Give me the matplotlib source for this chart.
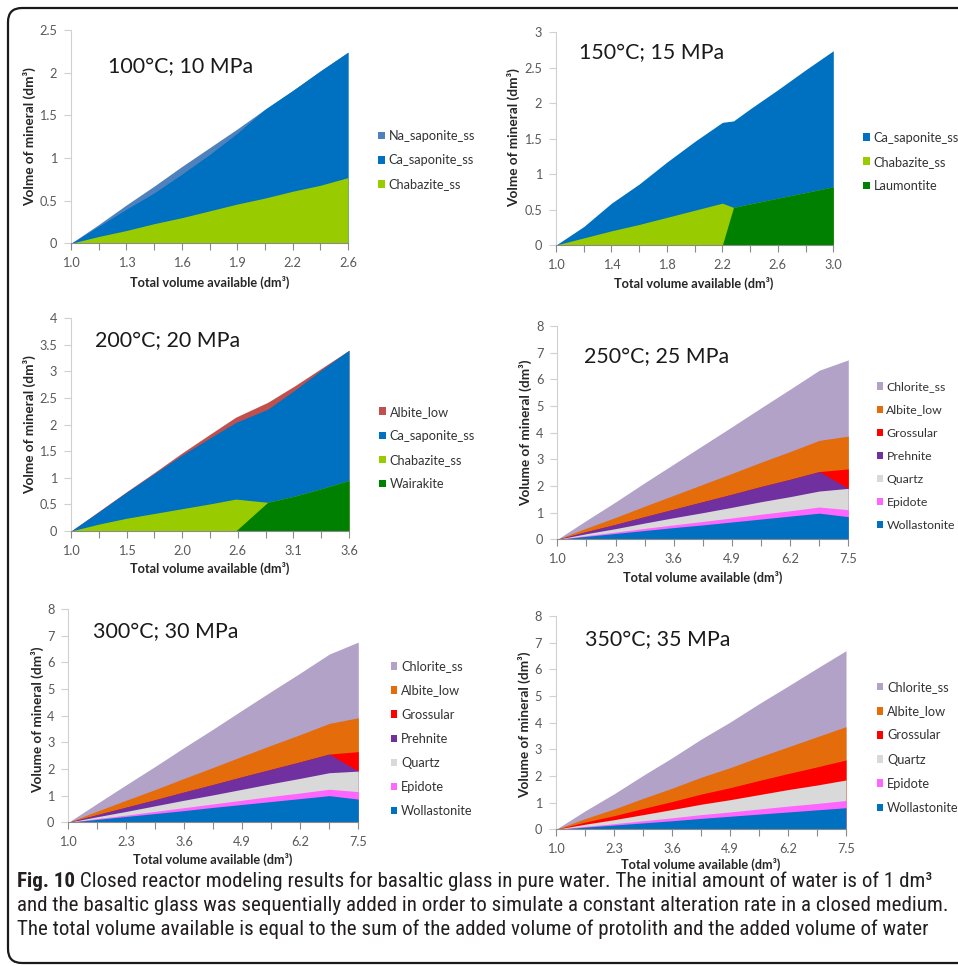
import matplotlib
matplotlib.use("Agg")
import matplotlib.pyplot as plt
import numpy as np
from matplotlib import font_manager
from matplotlib.patches import FancyBboxPatch

W, H, DPI = 958, 966, 100

_installed = {f.name for f in font_manager.fontManager.ttflist}
SANS = "Lato" if "Lato" in _installed else "DejaVu Sans"
NARROW = next((n for n in ("Liberation Sans Narrow", "Roboto Condensed", "Open Sans Condensed")
               if n in _installed), SANS)
plt.rcParams["font.family"] = [SANS, "DejaVu Sans"]

# mineral colours
BLUE = "#0070C0"
NA_BLUE = "#4F81BD"
LIME = "#99CC00"
GREEN = "#008000"
BRICK = "#C0504D"
LILAC = "#B3A2C7"
ORANGE = "#E46C0A"
RED = "#FF0000"
PURPLE = "#7030A0"
GREY = "#D9D9D9"
PINK = "#FF66FF"

# ---------------- 100 °C; 10 MPa ----------------
x_100 = [1.0, 1.16, 1.32, 1.48, 1.64, 1.80, 1.96, 2.12, 2.28, 2.44, 2.60]
ticks_100 = ["1.0", "1.3", "1.6", "1.9", "2.2", "2.6"]
chabazite_100 = [0, 0.08, 0.15, 0.23, 0.30, 0.38, 0.46, 0.53, 0.61, 0.68, 0.77]
ca_saponite_100 = [0, 0.12, 0.25, 0.36, 0.51, 0.66, 0.83, 1.04, 1.18, 1.34, 1.47]
na_saponite_100 = [0, 0.02, 0.05, 0.08, 0.09, 0.08, 0.05, 0, 0, 0, 0]

# ---------------- 150 °C; 15 MPa ----------------
x_150 = [1.0, 1.2, 1.4, 1.6, 1.8, 2.0, 2.2, 2.28, 2.4, 2.6, 2.8, 3.0]
ticks_150 = ["1.0", "1.4", "1.8", "2.2", "2.6", "3.0"]
laumontite_150 = [0, 0, 0, 0, 0, 0, 0, 0.53, 0.58, 0.66, 0.74, 0.82]
chabazite_150 = [0, 0.10, 0.20, 0.29, 0.39, 0.49, 0.59, 0, 0, 0, 0, 0]
ca_saponite_150 = [0, 0.16, 0.39, 0.57, 0.78, 0.97, 1.14, 1.22, 1.34, 1.53, 1.73, 1.92]

# ---------------- 200 °C; 20 MPa ----------------
x_200 = [1.0, 1.26, 1.52, 1.78, 2.04, 2.30, 2.54, 2.84, 3.10, 3.35, 3.60]
ticks_200 = ["1.0", "1.5", "2.0", "2.6", "3.1", "3.6"]
wairakite_200 = [0, 0, 0, 0, 0, 0, 0, 0.54, 0.66, 0.80, 0.95]
chabazite_200 = [0, 0.13, 0.24, 0.33, 0.42, 0.51, 0.60, 0, 0, 0, 0]
ca_saponite_200 = [0, 0.23, 0.49, 0.75, 1.01, 1.24, 1.44, 1.75, 2.00, 2.24, 2.45]
albite_200 = [0, 0.01, 0.01, 0.02, 0.04, 0.07, 0.10, 0.13, 0.08, 0.03, 0]

# ---------------- 250-350 °C share one volume axis ----------------
x_hi = [1.0, 1.65, 2.3, 2.95, 3.6, 4.25, 4.9, 5.55, 6.2, 6.85, 7.5]
ticks_hi = ["1.0", "2.3", "3.6", "4.9", "6.2", "7.5"]

wollastonite_250 = [0, 0.11, 0.22, 0.33, 0.44, 0.54, 0.65, 0.76, 0.87, 0.98, 0.85]
epidote_250 = [0, 0.03, 0.05, 0.08, 0.10, 0.13, 0.15, 0.18, 0.20, 0.23, 0.26]
quartz_250 = [0, 0.07, 0.13, 0.20, 0.27, 0.33, 0.40, 0.47, 0.53, 0.60, 0.80]
prehnite_250 = [0, 0.08, 0.16, 0.24, 0.32, 0.41, 0.49, 0.57, 0.65, 0.73, 0]
grossular_250 = [0, 0, 0, 0, 0, 0, 0, 0, 0, 0, 0.73]
albite_250 = [0, 0.13, 0.26, 0.39, 0.52, 0.65, 0.78, 0.91, 1.04, 1.17, 1.23]
chlorite_250 = [0, 0.29, 0.58, 0.88, 1.17, 1.46, 1.75, 2.04, 2.34, 2.63, 2.86]

wollastonite_300 = [0, 0.11, 0.22, 0.33, 0.44, 0.56, 0.67, 0.78, 0.89, 1.00, 0.87]
epidote_300 = [0, 0.03, 0.05, 0.08, 0.11, 0.13, 0.16, 0.19, 0.21, 0.24, 0.28]
quartz_300 = [0, 0.07, 0.14, 0.21, 0.28, 0.34, 0.41, 0.48, 0.55, 0.62, 0.77]
prehnite_300 = [0, 0.08, 0.16, 0.23, 0.31, 0.39, 0.47, 0.54, 0.62, 0.70, 0]
grossular_300 = [0, 0, 0, 0, 0, 0, 0, 0, 0, 0, 0.73]
albite_300 = [0, 0.13, 0.26, 0.38, 0.51, 0.64, 0.77, 0.90, 1.02, 1.15, 1.27]
chlorite_300 = [0, 0.29, 0.58, 0.87, 1.16, 1.44, 1.73, 2.02, 2.31, 2.60, 2.84]

wollastonite_350 = [0, 0.08, 0.16, 0.24, 0.32, 0.41, 0.49, 0.57, 0.65, 0.73, 0.81]
epidote_350 = [0, 0.03, 0.05, 0.08, 0.11, 0.14, 0.16, 0.19, 0.22, 0.24, 0.27]
quartz_350 = [0, 0.08, 0.15, 0.23, 0.31, 0.39, 0.46, 0.54, 0.62, 0.69, 0.77]
grossular_350 = [0, 0.08, 0.15, 0.23, 0.30, 0.38, 0.45, 0.53, 0.60, 0.68, 0.75]
albite_350 = [0, 0.13, 0.25, 0.38, 0.50, 0.63, 0.75, 0.88, 1.00, 1.13, 1.25]
chlorite_350 = [0, 0.29, 0.57, 0.86, 1.14, 1.43, 1.71, 2.00, 2.28, 2.57, 2.85]

XLABEL = "Total volume available (dm³)"

fig = plt.figure(figsize=(W / DPI, H / DPI), dpi=DPI)
fig.patch.set_facecolor("white")


def fx(px):
    return px / W


def fy(py):
    return 1 - py / H


def draw_panel(box, x, layers, ymax, ystep, ticklabels, title, title_at,
               ylabel, xlabel_at, ylabel_at, legend_at, legend_size=9.2):
    left, top, right, bottom = box
    ax = fig.add_axes([fx(left), fy(bottom), (right - left) / W, (bottom - top) / H])
    tops = np.cumsum([vals for _, vals, _ in layers], axis=0)
    # stacked areas: each cumulative band is filled from zero, top band first
    for i in reversed(range(len(layers))):
        name, _, colour = layers[i]
        ax.fill_between(x, 0, tops[i], color=colour, lw=0, label=name)
    ax.set_xlim(x[0], x[-1])
    ax.set_ylim(0, ymax)

    xt = np.linspace(x[0], x[-1], 2 * len(ticklabels) - 1)
    ax.set_xticks(xt[::2])
    ax.set_xticklabels(ticklabels)
    ax.set_xticks(xt[1::2], minor=True)
    yt = np.arange(0, ymax + 1e-9, ystep)
    ax.set_yticks(yt)
    ax.set_yticklabels(["%g" % v for v in yt])

    ax.tick_params(axis="x", which="both", direction="out", length=5, width=0.8,
                   color="#8A8A8A", labelsize=9.2, labelcolor="#595959", pad=5)
    ax.tick_params(axis="y", direction="out", length=5, width=0.8,
                   color="#D0D0D0", labelsize=9.2, labelcolor="#595959", pad=5)
    for s in ("top", "right"):
        ax.spines[s].set_visible(False)
    ax.spines["left"].set_color("#D0D0D0")
    ax.spines["left"].set_linewidth(0.8)
    ax.spines["bottom"].set_color("#8A8A8A")
    ax.spines["bottom"].set_linewidth(0.8)
    ax.set_facecolor("none")

    ax.set_xlabel(XLABEL, fontsize=9.2, fontweight="bold", color="#262626")
    ax.set_ylabel(ylabel, fontsize=9.8, fontweight="bold", color="#262626")
    inv = ax.transAxes.inverted()
    lx, ly = inv.transform((xlabel_at[0], H - xlabel_at[1]))
    ax.xaxis.set_label_coords(lx, ly)
    ax.xaxis.label.set_verticalalignment("center")
    lx, ly = inv.transform((ylabel_at[0], H - ylabel_at[1]))
    ax.yaxis.set_label_coords(lx, ly)
    ax.yaxis.label.set_verticalalignment("center")

    fig.text(fx(title_at[0]), fy(title_at[1]), title, fontsize=15.4,
             color="#1A1A1A", ha="left", va="baseline")

    handles, names = ax.get_legend_handles_labels()
    ax.legend(handles, names, loc="center left",
              bbox_to_anchor=(fx(legend_at[0]), fy(legend_at[1])),
              bbox_transform=fig.transFigure, frameon=False, fontsize=legend_size,
              handlelength=0.53, handleheight=0.53, handletextpad=0.28,
              labelspacing=0.95 * 9.2 / legend_size, borderpad=0, borderaxespad=0,
              labelcolor="#333333")
    return ax


draw_panel((71, 30, 348, 243.3), x_100,
           [("Chabazite_ss", chabazite_100, LIME),
            ("Ca_saponite_ss", ca_saponite_100, BLUE),
            ("Na_saponite_ss", na_saponite_100, NA_BLUE)],
           2.5, 0.5, ticks_100, "100°C; 10 MPa", (108.3, 72.7),
           "Volme of mineral (dm³)", (209.7, 282), (30, 136.5), (378.3, 160.3))

draw_panel((556, 32.3, 833.3, 245), x_150,
           [("Laumontite", laumontite_150, GREEN),
            ("Chabazite_ss", chabazite_150, LIME),
            ("Ca_saponite_ss", ca_saponite_150, BLUE)],
           3, 0.5, ticks_150, "150°C; 15 MPa", (579.3, 59.3),
           "Volme of mineral (dm³)", (694, 283.3), (514, 137.8), (863.3, 161.7))

draw_panel((71, 318.3, 349, 531), x_200,
           [("Wairakite", wairakite_200, GREEN),
            ("Chabazite_ss", chabazite_200, LIME),
            ("Ca_saponite_ss", ca_saponite_200, BLUE),
            ("Albite_low", albite_200, BRICK)],
           4, 0.5, ticks_200, "200°C; 20 MPa", (95, 346.7),
           "Volme of mineral (dm³)", (210, 568.3), (30, 425), (379.3, 448))

draw_panel((557.3, 326, 848.3, 539.3), x_hi,
           [("Wollastonite", wollastonite_250, BLUE),
            ("Epidote", epidote_250, PINK),
            ("Quartz", quartz_250, GREY),
            ("Prehnite", prehnite_250, PURPLE),
            ("Grossular", grossular_250, RED),
            ("Albite_low", albite_250, ORANGE),
            ("Chlorite_ss", chlorite_250, LILAC)],
           8, 1, ticks_hi, "250°C; 25 MPa", (584.3, 362.7),
           "Volume of mineral (dm³)", (703, 577.3), (526, 432.5), (876.5, 456.3),
           legend_size=8.8)

draw_panel((68.3, 609, 358.3, 822.3), x_hi,
           [("Wollastonite", wollastonite_300, BLUE),
            ("Epidote", epidote_300, PINK),
            ("Quartz", quartz_300, GREY),
            ("Prehnite", prehnite_300, PURPLE),
            ("Grossular", grossular_300, RED),
            ("Albite_low", albite_300, ORANGE),
            ("Chlorite_ss", chlorite_300, LILAC)],
           8, 1, ticks_hi, "300°C; 30 MPa", (92.7, 638.3),
           "Volume of mineral (dm³)", (213, 859), (37.5, 720), (390.7, 738.8))

draw_panel((556, 616, 846, 829.3), x_hi,
           [("Wollastonite", wollastonite_350, BLUE),
            ("Epidote", epidote_350, PINK),
            ("Quartz", quartz_350, GREY),
            ("Grossular", grossular_350, RED),
            ("Albite_low", albite_350, ORANGE),
            ("Chlorite_ss", chlorite_350, LILAC)],
           8, 1, ticks_hi, "350°C; 35 MPa", (585, 645.7),
           "Volume of mineral (dm³)", (701, 864), (525, 725), (876.7, 747.5))

# ---------------- caption ----------------
renderer = fig.canvas.get_renderer()
CAP_SIZE = 12.5
CAP_X = 17
cap_lines = [
    " Closed reactor modeling results for basaltic glass in pure water. The initial amount of water is of 1 dm³",
    "and the basaltic glass was sequentially added in order to simulate a constant alteration rate in a closed medium.",
    "The total volume available is equal to the sum of the added volume of protolith and the added volume of water",
]
cap_y = [887, 911, 935]

# scale the caption so the longest line spans the text block
probe = fig.text(0, 0, cap_lines[1], family=[NARROW, "DejaVu Sans"], fontsize=CAP_SIZE)
w = probe.get_window_extent(renderer).width
probe.remove()
CAP_SIZE = CAP_SIZE * (951 - CAP_X) / w

fig_lbl = fig.text(fx(CAP_X), fy(cap_y[0]), "Fig. 10", family=[NARROW, "DejaVu Sans"],
                   fontsize=CAP_SIZE, fontweight="bold", color="#231F20", va="baseline")
x_after = fig_lbl.get_window_extent(renderer).x1
fig.text(x_after / W, fy(cap_y[0]), cap_lines[0], family=[NARROW, "DejaVu Sans"],
         fontsize=CAP_SIZE, color="#231F20", va="baseline")
for line, yy in zip(cap_lines[1:], cap_y[1:]):
    fig.text(fx(CAP_X), fy(yy), line, family=[NARROW, "DejaVu Sans"],
             fontsize=CAP_SIZE, color="#231F20", va="baseline")

# rounded frame around the figure block
frame = FancyBboxPatch((8, H - 963), 990, 955, boxstyle="round,pad=0,rounding_size=14",
                       transform=None, fill=False, ec="#1A1A1A", lw=1.6)
fig.patches.append(frame)

fig.savefig("out.png", dpi=DPI, facecolor="white")
